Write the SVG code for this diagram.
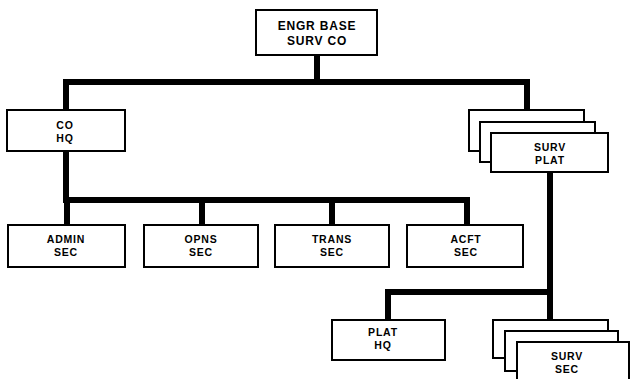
<svg xmlns="http://www.w3.org/2000/svg" width="631" height="379" viewBox="0 0 631 379">
<style>
.box{fill:#fff;stroke:#000;stroke-width:2}
.ln{fill:none;stroke:#000;stroke-width:6;stroke-linejoin:miter;stroke-linecap:butt}
text{font-family:"Liberation Sans",Arial,sans-serif;font-weight:bold;font-size:10.5px;text-anchor:middle;fill:#000;letter-spacing:0.8px}
.big{font-size:12px}
</style>
<rect width="631" height="379" fill="#fff"/>
<g id="connectors">
<path class="ln" d="M317 55 V82"/>
<path class="ln" d="M66 110 V82 H527 V110"/>
<path class="ln" d="M66 151 V200 H467 V225"/>
<path class="ln" d="M67 200 V225"/>
<path class="ln" d="M202 200 V225"/>
<path class="ln" d="M332 200 V225"/>
<path class="ln" d="M550 172 V320"/>
<path class="ln" d="M550 292 H388 V320"/>
</g>
<g id="engr-base-surv-co">
<rect class="box" x="256" y="10" width="121" height="45"/>
<text class="big" x="317" y="30">ENGR BASE</text>
<text class="big" x="317" y="45">SURV CO</text>
</g>
<g id="co-hq">
<rect class="box" x="7" y="110" width="118" height="41"/>
<text x="65" y="129">CO</text>
<text x="65" y="142">HQ</text>
</g>
<g id="surv-plat">
<rect class="box" x="469" y="110" width="115" height="41"/>
<rect class="box" x="480" y="122" width="115" height="40"/>
<rect class="box" x="491" y="133" width="117" height="39"/>
<text x="550" y="151">SURV</text>
<text x="550" y="164">PLAT</text>
</g>
<g id="admin-sec">
<rect class="box" x="8" y="225" width="117" height="42"/>
<text x="66" y="243">ADMIN</text>
<text x="66" y="256">SEC</text>
</g>
<g id="opns-sec">
<rect class="box" x="144" y="225" width="114" height="42"/>
<text x="201" y="243">OPNS</text>
<text x="201" y="256">SEC</text>
</g>
<g id="trans-sec">
<rect class="box" x="275" y="225" width="114" height="42"/>
<text x="332" y="243">TRANS</text>
<text x="332" y="256">SEC</text>
</g>
<g id="acft-sec">
<rect class="box" x="407" y="225" width="116" height="42"/>
<text x="466" y="243">ACFT</text>
<text x="466" y="256">SEC</text>
</g>
<g id="plat-hq">
<rect class="box" x="332" y="320" width="113" height="40"/>
<text x="383" y="336">PLAT</text>
<text x="383" y="349">HQ</text>
</g>
<g id="surv-sec">
<rect class="box" x="493" y="320" width="115" height="38"/>
<rect class="box" x="505" y="331" width="113" height="40"/>
<rect class="box" x="517" y="342" width="112" height="45"/>
<text x="567" y="360">SURV</text>
<text x="567" y="373">SEC</text>
</g>
</svg>
